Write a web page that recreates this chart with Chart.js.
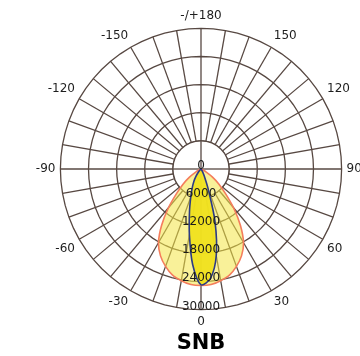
<!DOCTYPE html>
<html>
<head>
<meta charset="utf-8">
<script src="https://cdn.jsdelivr.net/npm/chart.js@4/dist/chart.umd.min.js"></script>
<style>
  html, body { margin: 0; padding: 0; background: #fff; overflow: hidden; }
  #wrap { position: relative; width: 402px; height: 356px; }
</style>
</head>
<body>
<div id="wrap"><canvas id="polar"></canvas></div>
<script>
// angles (deg) of the polar grid, clockwise from the top
const angles = [];
for (let i = 0; i < 72; i++) angles.push(180 - 5 * i);

// labels shown round the rim every 30 deg
const angleTicks = ['-/+180', '150', '120', '90', '60', '30', '0', '-30', '-60', '-90', '-120', '-150'];

// radial ticks (cd)
const radialTicks = [0, 6000, 12000, 18000, 24000, 30000];

// wide beam, one value per angle above (180 ... -175)
const wideBeam = [
  0, 0, 0, 0, 0, 0, 0, 0, 0, 0, 0, 0,
  0, 0, 0, 0, 0, 0, 0, 0, 0, 0, 0, 350,
  1300, 3000, 4950, 7300, 10800, 14650, 18150, 20450, 22100, 23450, 24200, 24750,
  24850, 24750, 24200, 23450, 22100, 20450, 18150, 14650, 10800, 7300, 4950, 3000,
  1300, 350, 0, 0, 0, 0, 0, 0, 0, 0, 0, 0,
  0, 0, 0, 0, 0, 0, 0, 0, 0, 0, 0, 0
];

// narrow beam
const narrowBeam = [
  0, 0, 0, 0, 0, 0, 0, 0, 0, 0, 0, 0,
  0, 0, 0, 0, 0, 0, 0, 0, 0, 0, 0, 0,
  0, 0, 0, 0, 0, 200, 700, 1600, 4300, 11500, 18750, 23400,
  24700, 20450, 14250, 9500, 6400, 4400, 3050, 1800, 900, 300, 0, 0,
  0, 0, 0, 0, 0, 0, 0, 0, 0, 0, 0, 0,
  0, 0, 0, 0, 0, 0, 0, 0, 0, 0, 0, 0
];

const gridColor = '#574842';

// white hole in the middle with the cross through it
const hole = {
  id: 'hole',
  beforeDatasetsDraw(chart) {
    const s = chart.scales.r;
    const ctx = chart.ctx;
    const r0 = s.getDistanceFromCenterForValue(radialTicks[1]);
    ctx.save();
    ctx.beginPath();
    ctx.arc(s.xCenter, s.yCenter, r0, 0, Math.PI * 2);
    ctx.fillStyle = '#fff';
    ctx.fill();
    ctx.lineWidth = 1.3;
    ctx.strokeStyle = gridColor;
    ctx.stroke();
    [0, 18, 36, 54].forEach(i => {
      const p = s.getPointPosition(i, r0);
      ctx.beginPath();
      ctx.moveTo(s.xCenter, s.yCenter);
      ctx.lineTo(p.x, p.y);
      ctx.stroke();
    });
    ctx.restore();
  },
  afterDatasetsDraw(chart) {
    const s = chart.scales.r;
    const ctx = chart.ctx;
    ctx.save();
    ctx.font = '12px "DejaVu Sans"';
    ctx.fillStyle = '#1a1a1a';
    ctx.textAlign = 'center';
    ctx.textBaseline = 'alphabetic';
    radialTicks.forEach(v => {
      const p = s.getPointPosition(36, s.getDistanceFromCenterForValue(v));
      ctx.fillText(String(v), p.x, p.y);
    });
    ctx.restore();
  }
};

new Chart(document.getElementById('polar'), {
  type: 'radar',
  data: {
    labels: angles,
    datasets: [
      {
        label: 'narrow',
        data: narrowBeam,
        borderColor: '#2c3b86',
        backgroundColor: 'rgba(240, 226, 30, 0.95)',
        borderWidth: 1.6,
        fill: true
      },
      {
        label: 'wide',
        data: wideBeam,
        borderColor: '#f47d5c',
        backgroundColor: 'rgba(244, 230, 70, 0.55)',
        borderWidth: 1.6,
        fill: true
      }
    ]
  },
  options: {
    responsive: true,
    maintainAspectRatio: false,
    animation: false,
    elements: {
      point: { radius: 0, hoverRadius: 0 },
      line: { tension: 0.3 }
    },
    layout: { padding: { top: 9, bottom: 0 } },
    plugins: {
      legend: { display: false },
      tooltip: { enabled: false },
      title: {
        display: true,
        text: 'SNB',
        position: 'bottom',
        color: '#000',
        font: { family: '"DejaVu Sans"', size: 21, weight: 'bold' },
        padding: { top: 1.5, bottom: 0 }
      }
    },
    scales: {
      r: {
        min: 0,
        max: 30000,
        ticks: { stepSize: 6000, display: false },
        grid: { color: gridColor, lineWidth: 1.3 },
        angleLines: {
          color: gridColor,
          lineWidth: ctx => (ctx.index % 2 === 0 ? 1.3 : 0)
        },
        pointLabels: {
          color: '#1e1e1e',
          padding: 5,
          font: { family: '"DejaVu Sans"', size: 12 },
          callback: (label, i) => (i % 6 === 0 ? angleTicks[i / 6] : '')
        }
      }
    }
  },
  plugins: [hole]
});
</script>
</body>
</html>
